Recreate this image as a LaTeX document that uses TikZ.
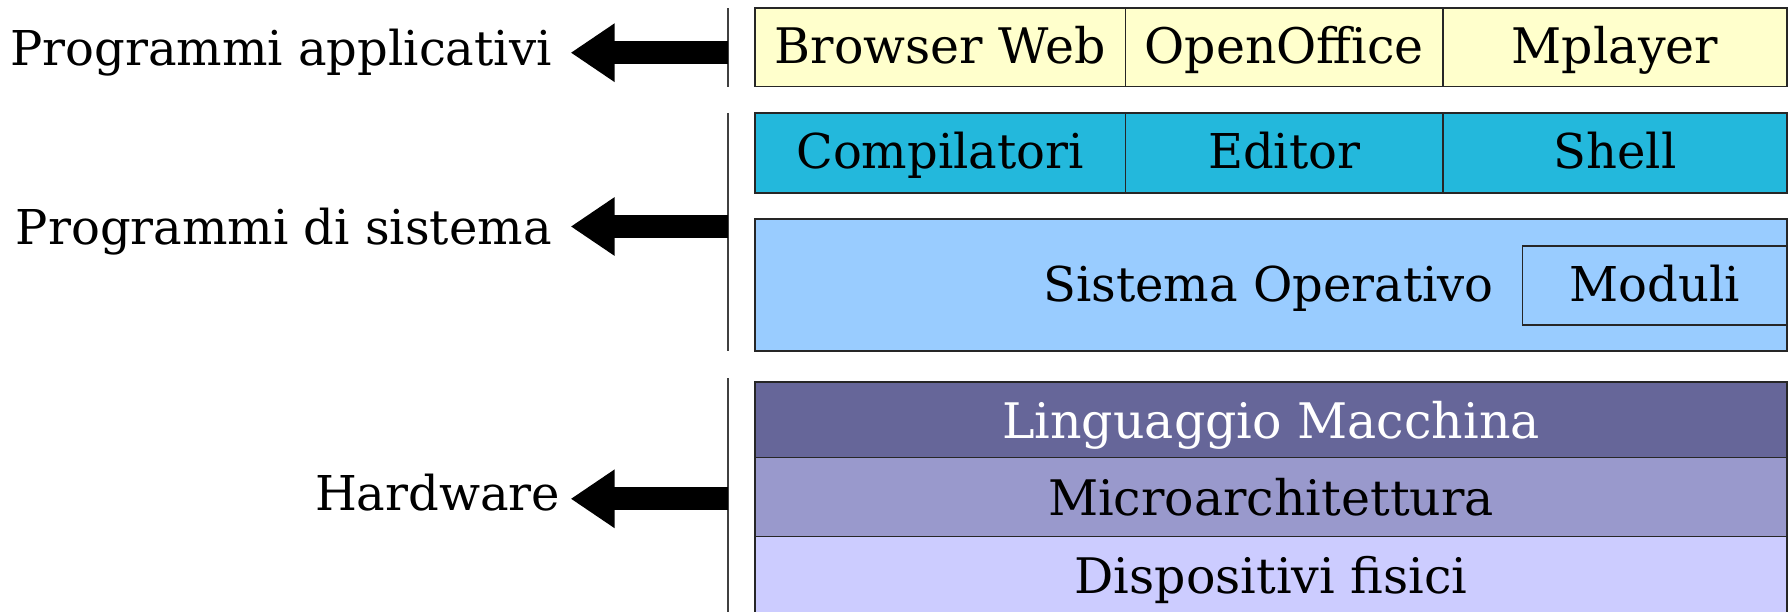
\documentclass[tikz,border=0pt]{standalone}
\usepackage{fontspec}
\setmainfont{DejaVu Serif}
\usetikzlibrary{arrows.meta}
\definecolor{cYellow}{HTML}{FFFFCC}
\definecolor{cCyan}{HTML}{23B8DC}
\definecolor{cOS}{HTML}{99CCFF}
\definecolor{cLM}{HTML}{666699}
\definecolor{cMA}{HTML}{9999CC}
\definecolor{cDF}{HTML}{CCCCFF}
\tikzset{
  cell/.style={draw=black!85, line width=1.2pt},
  sep/.style={draw=black!75, line width=1.3pt},
  lbl/.style={inner sep=0pt, font=\fontsize{48}{58}\selectfont, anchor=base},
  blbl/.style={inner sep=0pt, font=\fontsize{49}{59}\selectfont, anchor=base},
  bigarrow/.style={line width=22.7pt, -{Triangle[length=44pt,width=55.7pt]}},
}
\begin{document}
\begin{tikzpicture}[x=1pt,y=-1pt]
\useasboundingbox (0,0) rectangle (1788,612);
% row 1
\filldraw[cell, fill=cYellow] (755,8) rectangle (1787,86.7);
\draw[cell] (1125.5,8) -- (1125.5,86.7);
\draw[cell] (1443,8) -- (1443,86.7);
\node[blbl] (bw) at (940.2,63.3) {Browser Web};
\node[blbl] (oo) at (1284.2,63.3) {OpenOffice};
\node[blbl] (mp) at (1615,63.3) {Mplayer};
% row 2
\filldraw[cell, fill=cCyan] (755,113) rectangle (1787,193);
\draw[cell] (1125.5,113) -- (1125.5,193);
\draw[cell] (1443,113) -- (1443,193);
\node[lbl] (co) at (940.2,169) {Compilatori};
\node[lbl] (ed) at (1284.2,169) {Editor};
\node[lbl] (sh) at (1615,169) {Shell};
% OS
\filldraw[cell, fill=cOS] (755,219) rectangle (1787,351);
\filldraw[cell, fill=cOS] (1522.5,246) rectangle (1787,325);
\node[lbl, anchor=base east] (so) at (1494,301.7) {Sistema Operativo};
\node[lbl] (mo) at (1654.7,301.7) {Moduli};
% hardware
\filldraw[cell, fill=cLM] (755,382) rectangle (1787,457.3);
\filldraw[cell, fill=cMA] (755,457.3) rectangle (1787,536.7);
\filldraw[cell, fill=cDF] (755,536.7) rectangle (1787,614);
\node[blbl, text=white] (lm) at (1271,438) {Linguaggio Macchina};
\node[blbl] (ma) at (1271,515.5) {Microarchitettura};
\node[blbl] (df) at (1271,593.5) {Dispositivi fisici};
% separators
\coordinate (s1a) at (728,8.3);
\coordinate (s1b) at (728,86.7);
\coordinate (s2a) at (728,113);
\coordinate (s2b) at (728,351);
\coordinate (s3a) at (728,378.3);
\coordinate (s3b) at (728,612);
\draw[sep] (s1a) -- (s1b);
\draw[sep] (s2a) -- (s2b);
\draw[sep] (s3a) -- (s3b);
% labels
\node[lbl, anchor=base east] (pa) at (552,65.7) {Programmi applicativi};
\node[lbl, anchor=base east] (ps) at (552,244.3) {Programmi di sistema};
\node[lbl, anchor=base east] (hw) at (560.5,510.7) {Hardware};
% arrows
\coordinate (a1s) at (728,52.7);
\coordinate (a1e) at (570.7,52.7);
\coordinate (a2s) at (728,226.5);
\coordinate (a2e) at (570.7,226.5);
\coordinate (a3s) at (728,498.8);
\coordinate (a3e) at (570.7,498.8);
\draw[bigarrow] (a1s) -- (a1e);
\draw[bigarrow] (a2s) -- (a2e);
\draw[bigarrow] (a3s) -- (a3e);
\end{tikzpicture}
\end{document}
